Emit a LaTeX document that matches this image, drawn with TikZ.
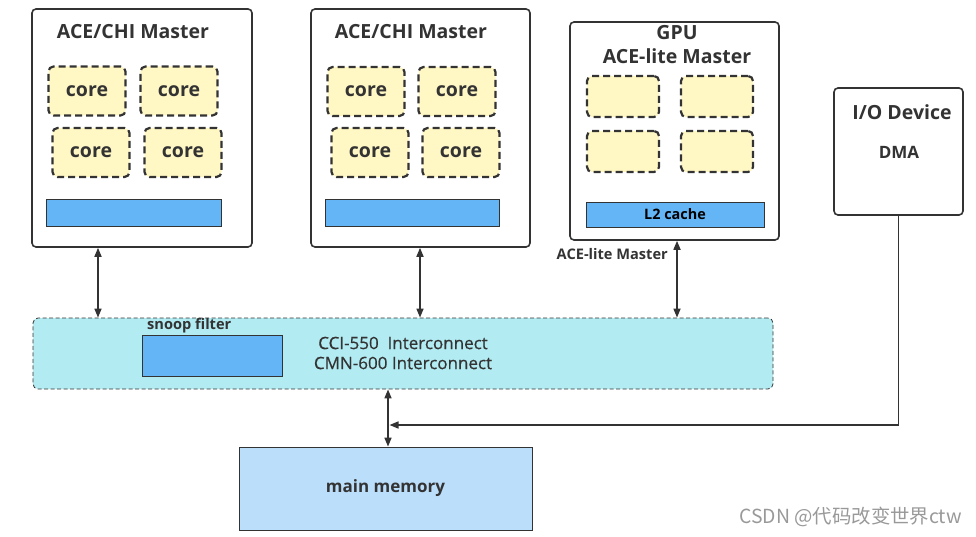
\documentclass[tikz,border=0pt]{standalone}
\usepackage{fontspec}
\setmainfont{Open Sans}
\newfontfamily\cjk{Noto Sans CJK SC}
\newfontfamily\semib{Open Sans}[FakeBold=0.6]
\usetikzlibrary{arrows.meta}
\definecolor{ink}{HTML}{333333}
\definecolor{coreY}{HTML}{FFF7C4}
\definecolor{barB}{HTML}{64B5F6}
\definecolor{icC}{HTML}{B2EBF2}
\definecolor{memB}{HTML}{BBDEFB}
\tikzset{
  master/.style={draw=ink, line width=1.6pt, rounded corners=4pt, fill=white, inner sep=0pt},
  corebox/.style={draw=ink, line width=2.2pt, dash pattern=on 7pt off 4pt, rounded corners=5pt, fill=coreY, minimum width=77pt, minimum height=49pt, inner sep=0pt, font=\fontsize{19.5}{21}\selectfont\bfseries, text=ink},
  gcore/.style={corebox, minimum width=72pt, minimum height=41pt},
  bar/.style={draw=ink, line width=0.8pt, fill=barB, inner sep=0pt},
  title/.style={font=\fontsize{19.5}{24}\selectfont\bfseries, text=ink, inner sep=0pt},
  dbl/.style={draw=ink, line width=1.6pt, {Triangle[length=9pt,width=7pt]}-{Triangle[length=9pt,width=7pt]}},
  sgl/.style={draw=ink, line width=1.6pt, -{Triangle[length=9pt,width=7pt]}},
}
\begin{document}
\begin{tikzpicture}[x=1pt,y=-1pt]
\useasboundingbox (0,0) rectangle (976,537);
% master 1
\node[master, minimum width=220pt, minimum height=238pt] (m1) at (142,128) {};
\node[title] (t1) at (133,32) {ACE/CHI Master};
\node[corebox] (c11) at (87,91) {core};
\node[corebox] (c12) at (179,91) {core};
\node[corebox] (c13) at (91,152.5) {core};
\node[corebox] (c14) at (183,152.5) {core};
\node[bar, minimum width=175pt, minimum height=27pt] (b1) at (133.5,212.5) {};
% master 2
\node[master, minimum width=219pt, minimum height=238pt] (m2) at (420.5,128) {};
\node[title] (t2) at (411,32) {ACE/CHI Master};
\node[corebox] (c21) at (366,91.5) {core};
\node[corebox] (c22) at (457,91.5) {core};
\node[corebox] (c23) at (370,152.5) {core};
\node[corebox] (c24) at (461,152.5) {core};
\node[bar, minimum width=174pt, minimum height=27pt] (b2) at (412,212.5) {};
% GPU
\node[master, minimum width=209pt, minimum height=218pt] (g) at (674.5,131) {};
\node[title, align=center] (tg) at (677,45) {GPU\\ACE-lite Master};
\node[gcore] (g1) at (623,96.5) {};
\node[gcore] (g2) at (717,96.5) {};
\node[gcore] (g3) at (623,151.5) {};
\node[gcore] (g4) at (717,151.5) {};
\node[bar, minimum width=178pt, minimum height=25pt, font=\fontsize{14.4}{16}\selectfont\bfseries, text=black] (l2) at (675,214.5) {L2 cache};
% IO device
\node[master, minimum width=129pt, minimum height=127pt] (io) at (898.5,151.5) {};
\node[title] (tio) at (902,112) {I/O Device};
\node[font=\fontsize{17}{19}\selectfont\bfseries, text=ink, inner sep=0pt] (dma) at (899,152) {DMA};
% interconnect
\node[draw=ink, line width=0.8pt, dash pattern=on 4pt off 2.5pt, rounded corners=5pt, fill=icC, minimum width=740pt, minimum height=71pt, inner sep=0pt] (ic) at (403,353.5) {};
\node[bar, minimum width=140pt, minimum height=41pt] (sf) at (212,355.5) {};
\node[anchor=west, font=\fontsize{14.6}{16}\selectfont\bfseries, text=ink, inner sep=0pt] (sfl) at (147,326) {snoop filter};
\node[align=center, font=\fontsize{17}{20}\selectfont\semib, text=ink, inner sep=0pt] (ict) at (403,353) {CCI-550\ \ Interconnect\\CMN-600 Interconnect};
% main memory
\node[draw=ink, line width=0.8pt, fill=memB, minimum width=293pt, minimum height=83pt, inner sep=0pt, font=\fontsize{17}{19}\selectfont\bfseries, text=ink] (mem) at (385.5,488.5) {main memory};
% connectors
\coordinate (x1) at (98,0);
\coordinate (x2) at (420,0);
\coordinate (x3) at (677,0);
\coordinate (x4) at (388,0);
\draw[dbl] (m1.south -| x1) -- (ic.north -| x1);
\draw[dbl] (m2.south -| x2) -- (ic.north -| x2);
\draw[dbl] (g.south -| x3) -- (ic.north -| x3);
\draw[dbl] (ic.south -| x4) -- (mem.north -| x4);
\coordinate (j) at (389.5,425);
\draw[sgl] (io.south) |- (j);
\node[anchor=east, font=\fontsize{14.6}{16}\selectfont\bfseries, text=ink, inner sep=0pt] (al) at (668,254.5) {ACE-lite Master};
% watermark
\node[anchor=east, font=\fontsize{19.4}{22}\selectfont\cjk, text=black!40, inner sep=0pt] (wm) at (962,517) {CSDN @代码改变世界ctw};
\end{tikzpicture}
\end{document}
